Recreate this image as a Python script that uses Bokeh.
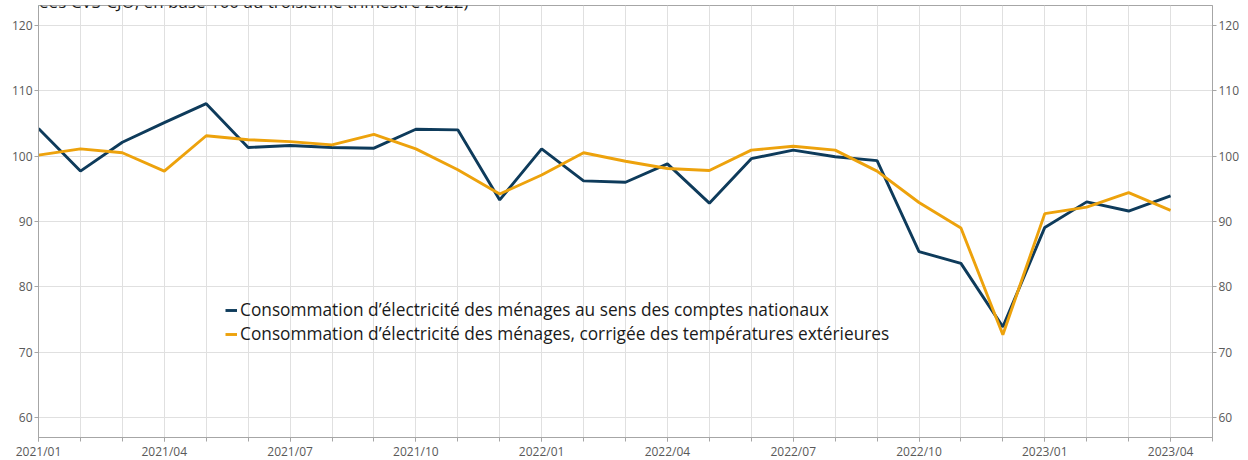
from bokeh.plotting import figure
from bokeh.models import Range1d, LinearAxis, FixedTicker, Legend, LegendItem, Label
from bokeh.embed import file_html
from bokeh.resources import INLINE

months = ["2021/01", "2021/02", "2021/03", "2021/04", "2021/05", "2021/06", "2021/07",
          "2021/08", "2021/09", "2021/10", "2021/11", "2021/12", "2022/01", "2022/02",
          "2022/03", "2022/04", "2022/05", "2022/06", "2022/07", "2022/08", "2022/09",
          "2022/10", "2022/11", "2022/12", "2023/01", "2023/02", "2023/03", "2023/04"]

conso_nat = [104.2, 97.7, 102.1, 105.1, 108.0, 101.3, 101.6, 101.3, 101.2, 104.1,
             104.0, 93.3, 101.1, 96.2, 96.0, 98.8, 92.8, 99.6, 100.9, 99.9,
             99.3, 85.4, 83.6, 73.9, 89.1, 93.0, 91.6, 93.9]
conso_cor = [100.15, 101.1, 100.5, 97.7, 103.1, 102.5, 102.2, 101.7, 103.3, 101.1,
             97.9, 94.2, 97.1, 100.5, 99.2, 98.1, 97.8, 100.9, 101.5, 100.9,
             97.7, 92.9, 89.0, 72.7, 91.2, 92.2, 94.4, 91.7]

label_nat = "Consommation d\u2019\u00e9lectricit\u00e9 des m\u00e9nages au sens des comptes nationaux"
label_cor = "Consommation d\u2019\u00e9lectricit\u00e9 des m\u00e9nages, corrig\u00e9e des temp\u00e9ratures ext\u00e9rieures"
subtitle = "Indices mensuels (donn\u00e9es CVS-CJO, en base 100 au troisi\u00e8me trimestre 2022)"

y_ticks = [60, 70, 80, 90, 100, 110, 120]
x_label_ticks = [0, 3, 6, 9, 12, 15, 18, 21, 24, 27]

x = list(range(len(months)))

BLUE = "#0e3b5b"
ORANGE = "#eda20c"
AXIS = "#a6a6a6"
GRID = "#e0e0e0"
TXT = "#595959"
FONT = "Open Sans"

p = figure(frame_width=1174, frame_height=432, output_backend="svg", toolbar_location=None,
           x_range=Range1d(0, 28), y_range=Range1d(57, 123),
           min_border_left=46, min_border_right=32, min_border_top=13, min_border_bottom=22,
           margin=(-8, -8, -8, -8))
p.outline_line_color = AXIS
p.background_fill_color = "white"
p.border_fill_color = "white"

r1 = p.line(x, conso_nat, line_color=BLUE, line_width=2.9)
r2 = p.line(x, conso_cor, line_color=ORANGE, line_width=2.9)

def style_axis(ax):
    ax.axis_line_color = AXIS
    ax.major_tick_line_color = AXIS
    ax.minor_tick_line_color = AXIS
    ax.major_tick_in = 0
    ax.major_tick_out = 4
    ax.minor_tick_in = 0
    ax.minor_tick_out = 4
    ax.major_label_text_color = TXT
    ax.major_label_text_font = FONT
    ax.major_label_text_font_size = "12px"
    ax.major_label_standoff = 2

xa = p.xaxis[0]
xa.ticker = FixedTicker(ticks=x_label_ticks, minor_ticks=list(range(29)))
xa.major_label_overrides = {i: months[i] for i in x_label_ticks}
style_axis(xa)
xa.major_label_standoff = 1

ya = p.yaxis[0]
ya.ticker = FixedTicker(ticks=y_ticks, minor_ticks=[])
style_axis(ya)

yr = LinearAxis(ticker=FixedTicker(ticks=y_ticks, minor_ticks=[]))
style_axis(yr)
p.add_layout(yr, "right")

p.xgrid.ticker = FixedTicker(ticks=list(range(29)))
p.xgrid.grid_line_color = GRID
p.ygrid.ticker = FixedTicker(ticks=y_ticks)
p.ygrid.grid_line_color = GRID

legend = Legend(items=[LegendItem(label=label_nat, renderers=[r1]),
                       LegendItem(label=label_cor, renderers=[r2])],
                location=(187, 92), orientation="vertical")
legend.background_fill_alpha = 0
legend.border_line_alpha = 0
legend.padding = 0
legend.margin = 0
legend.spacing = 1
legend.glyph_width = 12
legend.glyph_height = 22
legend.label_height = 22
legend.label_standoff = 3
legend.label_text_font = FONT
legend.label_text_font_size = "17.3px"
legend.label_text_color = "#1a1a1a"
p.add_layout(legend, "center")

title = Label(x=430, y=436, x_units="screen", y_units="screen", text=subtitle,
              text_align="right", text_baseline="alphabetic", text_font=FONT,
              text_font_size="17px", text_color="#1a1a1a")
p.add_layout(title)

open("out.html", "w").write(file_html(p, INLINE))
